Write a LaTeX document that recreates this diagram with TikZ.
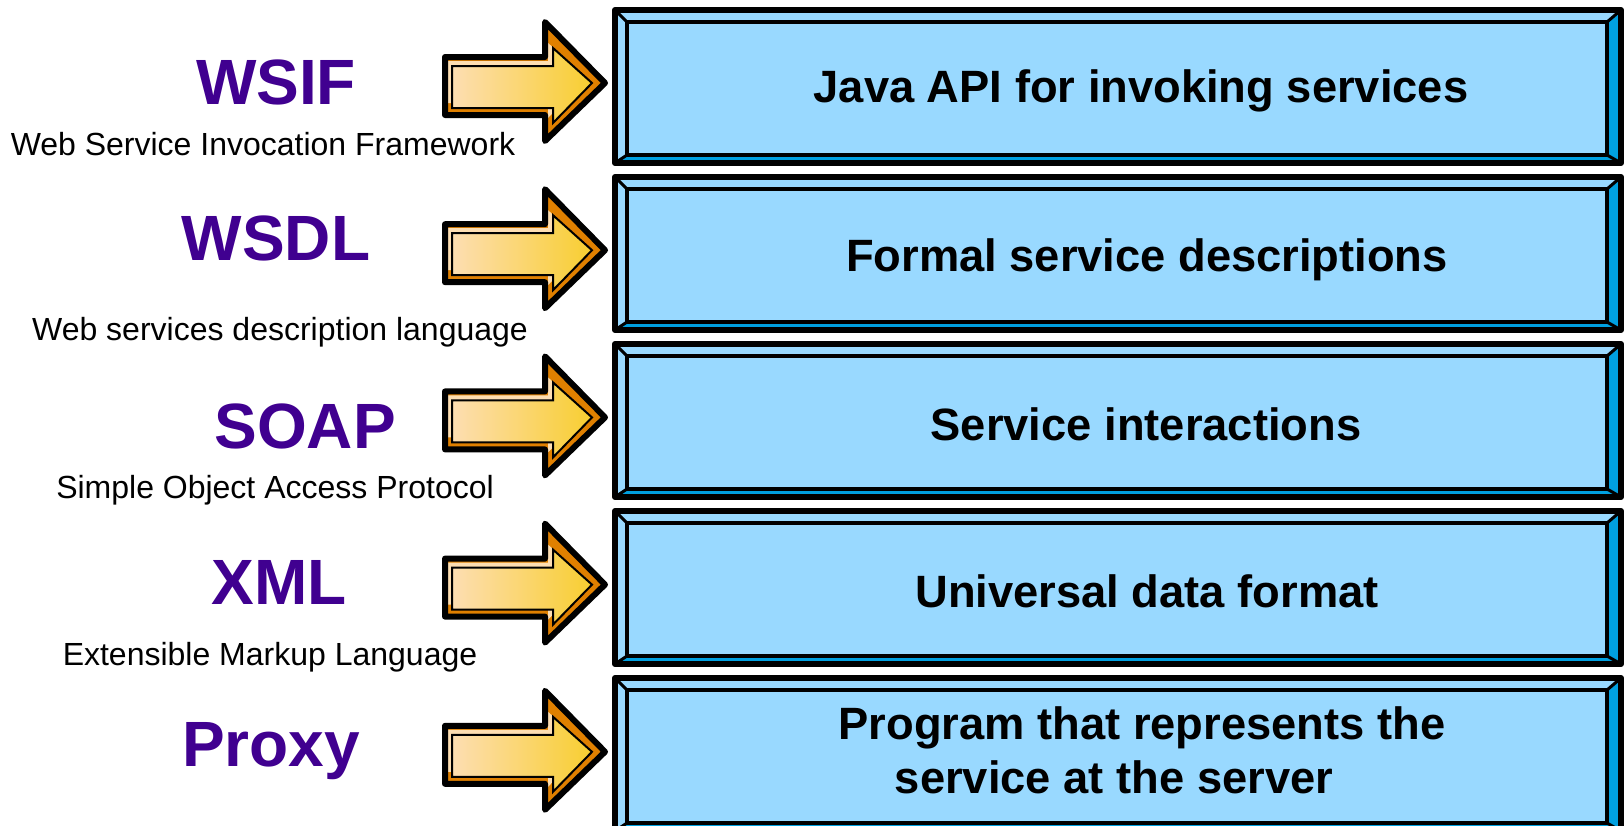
\documentclass[tikz,border=0pt]{standalone}
\usepackage{fontspec}
\setmainfont{Liberation Sans}
\usetikzlibrary{positioning}
\definecolor{wsviolet}{RGB}{64,0,144}
\definecolor{facecyan}{RGB}{153,217,255}
\definecolor{edgecyan}{RGB}{0,160,224}
\definecolor{arrowpeach}{RGB}{253,222,178}
\definecolor{arrowgold}{RGB}{248,206,48}
\definecolor{arroworange}{RGB}{224,128,0}

\tikzset{
  layerbox/.pic={
    \fill[facecyan] (0,0) rectangle (1006,153);
    \fill[edgecyan] (1006,0) -- (992,12) -- (992,145) -- (12,145) -- (0,153) -- (1006,153) -- cycle;
    \draw[line width=3pt] (0,0) -- (12,12) (1006,0) -- (992,12) (0,153) -- (12,145) (1006,153) -- (992,145);
    \draw[line width=4pt] (12,12) rectangle (992,145);
    \draw[line width=6pt, line join=round] (0,0) rectangle (1006,153);
  },
  fatarrow/.pic={
    \fill[arroworange] (0,-26) -- (100,-26) -- (100,-61) -- (160,0) -- (100,58) -- (100,32) -- (0,32) -- cycle;
    \fill[arrowpeach] (2,-22) -- (103,-22) -- (103,-40) -- (142,-5) -- (103,35) -- (103,20) -- (2,20) -- cycle;
    \draw[line width=2pt, left color=arrowpeach, right color=arrowgold] (7,-17) -- (108,-17) -- (108,-35) -- (147,0) -- (108,40) -- (108,25) -- (7,25) -- cycle;
    \draw[line width=6pt, line join=round] (0,-26) -- (100,-26) -- (100,-61) -- (160,0) -- (100,58) -- (100,32) -- (0,32) -- cycle;
  }
}

\begin{document}
\begin{tikzpicture}[
  x=1pt, y=-1pt,
  title/.style={anchor=base, inner sep=0pt, text=wsviolet, font=\bfseries\fontsize{64}{64}\selectfont},
  subtitle/.style={anchor=base, inner sep=0pt, font=\fontsize{32}{32}\selectfont},
  boxtext/.style={anchor=base, inner sep=0pt, font=\bfseries\fontsize{45.3}{45.3}\selectfont}
]
  \clip (0,0) rectangle (1624,825);

  % Layer boxes and arrows
  \foreach \i in {0,...,4} {
    \pic at (615,{10+167*\i}) {layerbox};
    \pic at (445,{83+167.2*\i}) {fatarrow};
  }

  % Technologies
  \node[title] (wsif) at (276,104) {WSIF};
  \node[subtitle] (wsifsub) at (263,155) {Web Service Invocation Framework};
  \node[title] (wsdl) at (276,260) {WSDL};
  \node[subtitle] (wsdlsub) at (280,340) {Web services description language};
  \node[title] (soap) at (305,448) {SOAP};
  \node[subtitle] (soapsub) at (275,498) {Simple Object Access Protocol};
  \node[title] (xml) at (279,604) {XML};
  \node[subtitle] (xmlsub) at (270,665) {Extensible Markup Language};
  \node[title] (proxy) at (271,766) {Proxy};

  % Roles
  \node[boxtext] (wsifbox) at (1141,102) {Java API for invoking services};
  \node[boxtext] (wsdlbox) at (1147,271) {Formal service descriptions};
  \node[boxtext] (soapbox) at (1146,440) {Service interactions};
  \node[boxtext] (xmlbox) at (1147,607) {Universal data format};
  \node[boxtext] (proxybox) at (1142,739) {Program that represents the};
  \node[boxtext] (proxyboxb) at (1114,793) {service at the server};
\end{tikzpicture}
\end{document}
